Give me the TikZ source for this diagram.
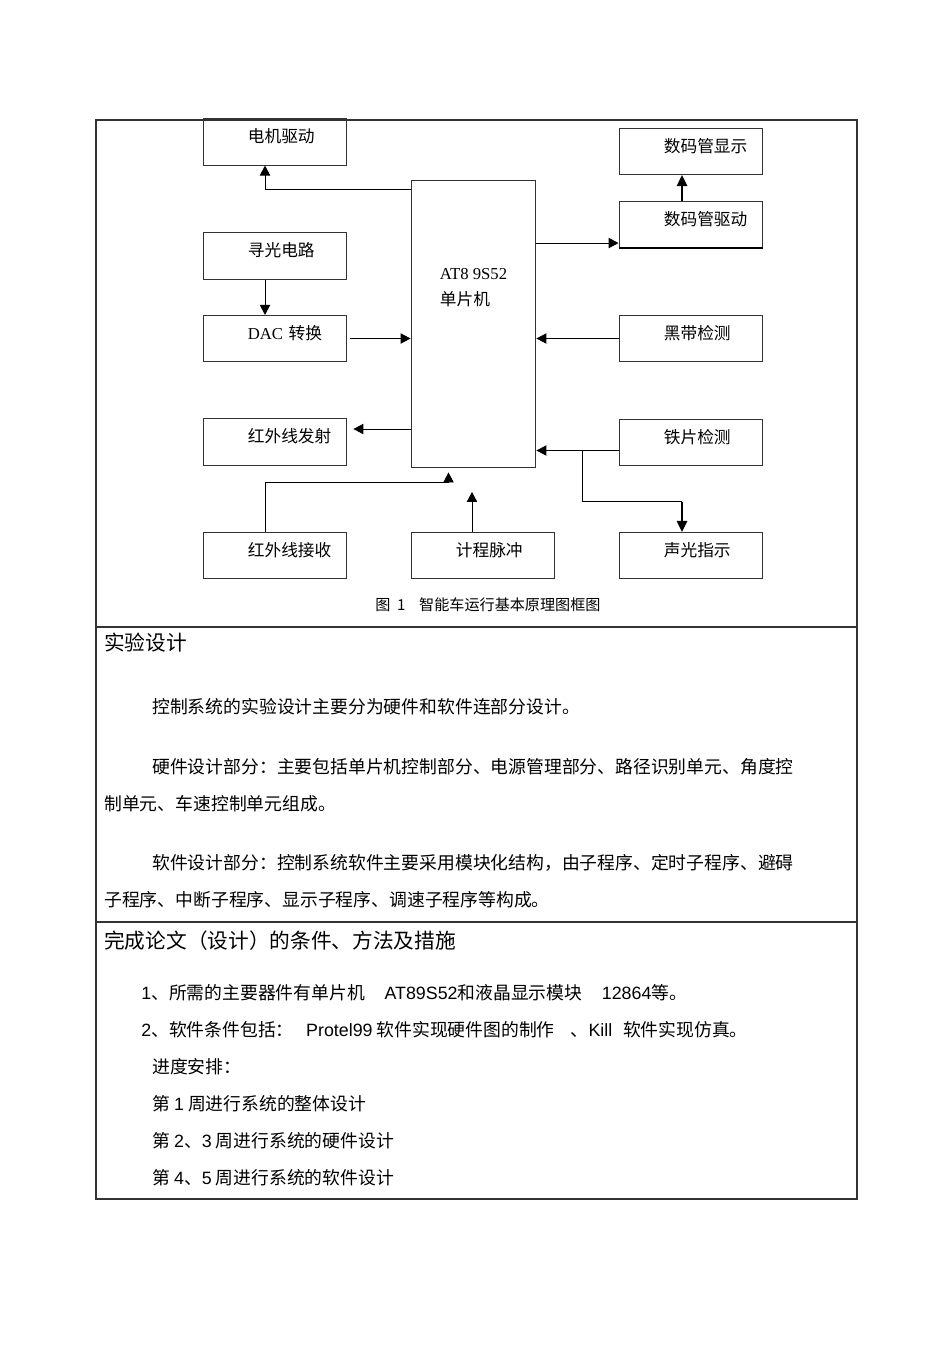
\documentclass[tikz,border=0pt]{standalone}
\usepackage{fontspec}
\setmainfont{Noto Sans CJK SC}
\newfontfamily\arialf{Liberation Sans}
\newfontfamily\timesf{Liberation Serif}
\usetikzlibrary{calc, positioning, arrows.meta}

\begin{document}
\begin{tikzpicture}[x=0.0221cm, y=-0.0221cm]
    \edef\blkwd{3.18cm}
    \tikzstyle{blk}=[draw=black!80, line width=0.6pt, text width=\blkwd, inner xsep=0pt, inner ysep=0pt,
        text height=0.53cm, text depth=0.49cm, align=left, font=\fontsize{10.5}{12}\selectfont,
        execute at begin node={\hspace*{0.99cm}}]
    \tikzstyle{arr}=[line width=0.6pt, -{Triangle[length=6.3pt,width=6.5pt]}]
    \tikzstyle{thkarr}=[line width=1.3pt, -{Triangle[length=7pt,width=6.5pt]}]
    \tikzstyle{body}=[anchor=base west, inner sep=0pt, font=\fontsize{11.2}{14}\selectfont]
    \tikzstyle{head}=[anchor=base west, inner sep=0pt, font=\fontsize{13}{16}\selectfont]

    \useasboundingbox (0,0) rectangle (950,1345);

    % table frame
    \draw [black!80, line width=0.7pt] (96,120) rectangle (857,1199);
    \draw [black!80, line width=0.7pt] (96,627) -- (857,627) (96,922) -- (857,922);

    % blocks
    \node (dj) [blk] at (275,142) {电机驱动};
    \node (xg) [blk] at (275,256) {寻光电路};
    \node (dac) [blk] at (275,338.5) {{\timesf DAC} 转换};
    \node (hwfs) [blk] at (275,442) {红外线发射};
    \node (hwjs) [blk] at (275,555.5) {红外线接收};
    \node (jc) [blk] at (483,555.5) {计程脉冲};
    \node (smxs) [blk] at (691,151.5) {数码管显示};
    \node (smqd) [blk] at (691,224.5) {数码管驱动};
    \node (hd) [blk] at (691,338.5) {黑带检测};
    \node (tp) [blk] at (691,442.5) {铁片检测};
    \node (sg) [blk] at (691,555.5) {声光指示};
    \draw [line width=1.2pt] (smqd.south west) -- (smqd.south east);

    \node (mcu) [draw=black!80, line width=0.6pt, minimum width=2.76cm, minimum height=6.34cm, inner sep=0pt] at (473.5,323.5) {};
    \node (mcutxt) [anchor=north west, inner sep=0pt, align=left, font=\fontsize{10.5}{16.3}\selectfont]
        at ($(mcu.north west)+(29,89)$) {{\timesf AT8 9S52}\\单片机};

    % connectors
    \draw [arr] ($(mcu.north west)+(0,10)$) -| ($(dj.south)+(-10,0)$);
    \draw [arr] ($(xg.south)+(-10,0)$) -- ($(dac.north)+(-10,0)$);
    \draw [arr] ($(dac.east)+(3,0)$) -- (dac.east -| mcu.west);
    \draw [arr] ($(smqd.south west -| mcu.east)+(0,-5)$) -- ($(smqd.south west)+(0,-5)$);
    \draw [thkarr] ($(smqd.north)+(-9,0)$) -- ($(smxs.south)+(-9,0)$);
    \draw [arr] (hd.west) -- (hd.west -| mcu.east);
    \draw [arr] ($(hwfs.east -| mcu.west)+(0,-13)$) -- ($(hwfs.east)+(6,-13)$);
    \draw [arr] ($(tp.west)+(0,8)$) -- ($(tp.west -| mcu.east)+(0,8)$);
    \draw [line width=0.6pt] ($(tp.west)+(-36,8)$) |- ($(sg.north)+(-9,-30)$);
    \draw [thkarr] ($(sg.north)+(-9,-30)$) -- ($(sg.north)+(-9,0)$);
    \draw [arr] ($(hwjs.north)+(-10,0)$) |- ($(mcu.south)+(-25,15)$) -- ($(mcu.south)+(-25,5)$);
    \draw [arr] ($(jc.north)+(-11,0)$) -- ($(jc.north)+(-11,-40)$);

    \node (cap) [anchor=base west, inner sep=0pt, font=\fontsize{9.5}{11}\selectfont]
        at (375,610) {图\hspace{0.45em}1\hspace{0.9em}智能车运行基本原理图框图};

    % text rows
    \node (h1) [head] at (104,650) {实验设计};
    \node (p1) [body] at (152,713) {控制系统的实验设计主要分为硬件和软件连部分设计。};
    \node (p2) [body] at (152,773) {硬件设计部分：主要包括单片机控制部分、电源管理部分、路径识别单元、角度控};
    \node (p3) [body] at (104,810) {制单元、车速控制单元组成。};
    \node (p4) [body] at (152,869) {软件设计部分：控制系统软件主要采用模块化结构，由子程序、定时子程序、避碍};
    \node (p5) [body] at (104,906) {子程序、中断子程序、显示子程序、调速子程序等构成。};

    \node (h2) [head] at (104,948) {完成论文（设计）的条件、方法及措施};
    \node (q1) [body] at (141,999) {{\arialf 1}、所需的主要器件有单片机\hspace{1.1em}{\arialf AT89S52}和液晶显示模块\hspace{1.1em}{\arialf 12864}等。};
    \node (q2) [body] at (141,1036) {{\arialf 2}、软件条件包括：\hspace{0.7em}{\arialf Protel99} 软件实现硬件图的制作\hspace{0.9em}、{\arialf Kill}\hspace{0.6em}软件实现仿真。};
    \node (q3) [body] at (152,1073) {进度安排：};
    \node (q4) [body] at (152,1110) {第 {\arialf 1} 周进行系统的整体设计};
    \node (q5) [body] at (152,1147) {第 {\arialf 2}、{\arialf 3} 周进行系统的硬件设计};
    \node (q6) [body] at (152,1184) {第 {\arialf 4}、{\arialf 5} 周进行系统的软件设计};
\end{tikzpicture}
\end{document}
